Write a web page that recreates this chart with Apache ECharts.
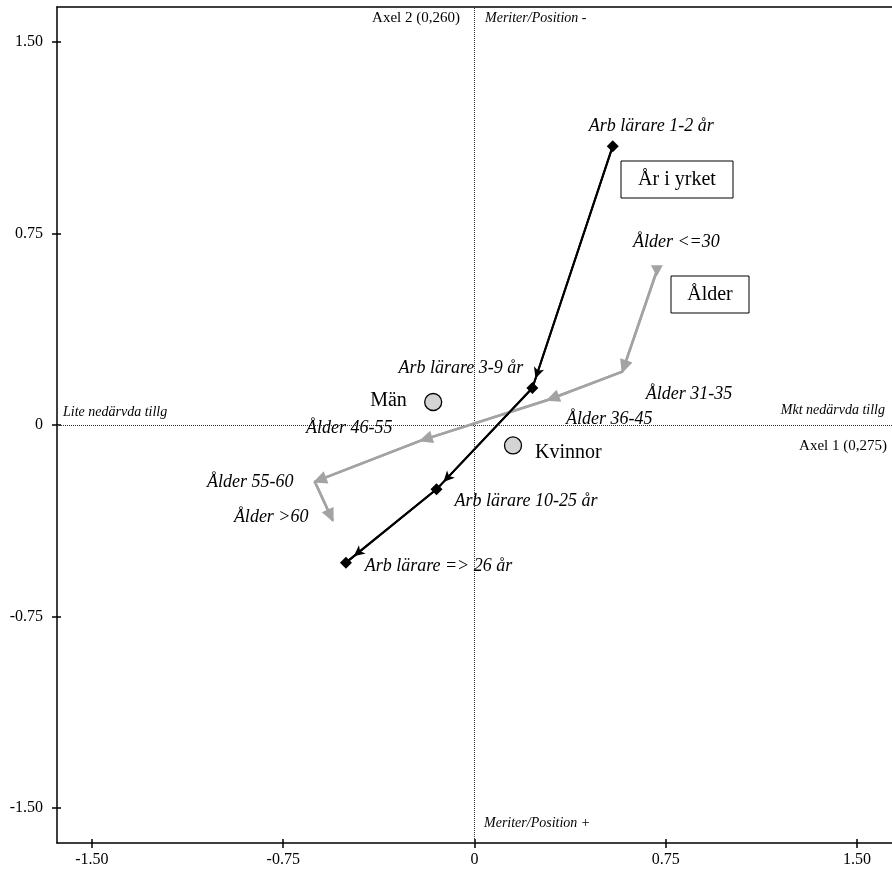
<!DOCTYPE html>
<html><head><meta charset="utf-8">
<script src="https://cdn.jsdelivr.net/npm/echarts@6/dist/echarts.min.js"></script>
<style>html,body{margin:0;padding:0;background:#fff}#c{width:892px;height:873px}</style>
</head><body><div id="c"></div>
<script>
// ---- data ----
const tickValues = [-1.5, -0.75, 0, 0.75, 1.5];
const tickLabels = ['-1.50', '-0.75', '0', '0.75', '1.50'];

const yrkeLabels = ['Arb lärare 1-2 år', 'Arb lärare 3-9 år', 'Arb lärare 10-25 år', 'Arb lärare => 26 år'];
const yrkeX = [0.542, 0.227, -0.149, -0.504];
const yrkeY = [1.092, 0.145, -0.252, -0.539];

const alderLabels = ['Ålder <=30', 'Ålder 31-35', 'Ålder 36-45', 'Ålder 46-55', 'Ålder 55-60', 'Ålder >60'];
const alderX = [0.715, 0.580, 0.287, -0.211, -0.626, -0.556];
const alderY = [0.604, 0.209, 0.098, -0.061, -0.222, -0.374];

const genderLabels = ['Män', 'Kvinnor'];
const genderX = [-0.162, 0.151];
const genderY = [0.090, -0.080];

// ---- styling / placement ----
const RANGE = 1.637;
const SERIF = '"Liberation Serif", "Times New Roman", serif';
const yrkeLabelOffset = [[39, -19], [-71, -19], [90, 12], [93, 4]];
const alderLabelOffset = [[20, -28], [67, 23], [62, 20], [-71, -12], [-64, 1], [-61, -3]];
// offsets measured from the 17px marker's top-left corner
const genderLabelOffset = [[-35.5, 7.5], [64.5, 16.5]];
const GREY = '#a3a3a3';

const pts = (xs, ys) => xs.map((x, i) => [x, ys[i]]);
const segs = (xs, ys) => xs.slice(1).map((x, i) => [{coord: [xs[i], ys[i]]}, {coord: [x, ys[i + 1]]}]);
const fmt = v => { const i = tickValues.findIndex(t => Math.abs(t - v) < 1e-9); return i >= 0 ? tickLabels[i] : ''; };

const labelData = (xs, ys, names, offs, style) => xs.map((x, i) => ({
  value: [x, ys[i]],
  label: Object.assign({show: true, formatter: names[i], position: [0, 0], offset: offs[i], align: 'center', verticalAlign: 'middle', textBorderWidth: 0, opacity: 1}, style)
}));

const baseAxis = (isX) => ({
  type: 'value', min: -RANGE, max: RANGE,
  position: isX ? 'bottom' : 'left',
  splitLine: {show: false},
  axisLine: {show: true, onZero: false, lineStyle: {color: '#000', width: 1.5}},
  axisTick: {show: true, inside: false, length: 5, customValues: tickValues, lineStyle: {color: '#000', width: 1.5}},
  axisLabel: {show: true, customValues: tickValues, formatter: fmt, fontFamily: SERIF, fontSize: 16, color: '#000', margin: isX ? 9 : 14}
});
const innerAxis = (isX) => ({
  type: 'value', min: -RANGE, max: RANGE,
  position: isX ? 'bottom' : 'left',
  splitLine: {show: false},
  axisLine: {show: false, onZero: false},
  axisTick: {show: true, inside: true, length: 4, customValues: tickValues, lineStyle: {color: '#000', width: 1.5}},
  axisLabel: {show: false}
});
const topAxis = {
  type: 'value', min: -RANGE, max: RANGE, position: 'top',
  splitLine: {show: false},
  axisLine: {show: true, onZero: false, lineStyle: {color: '#000', width: 1.5}},
  axisTick: {show: false}, axisLabel: {show: false}
};

const italic = {fontFamily: SERIF, fontStyle: 'italic', fontSize: 18, color: '#000'};
const upright = {fontFamily: SERIF, fontSize: 20, color: '#000'};

const chart = echarts.init(document.getElementById('c'), null, {renderer: 'canvas'});
chart.setOption({
  animation: false,
  backgroundColor: '#fff',
  grid: {left: 57, top: 7, width: 836, height: 836, show: false},
  xAxis: [baseAxis(true), innerAxis(true), topAxis],
  yAxis: [baseAxis(false), innerAxis(false)],
  series: [
    { // zero reference lines
      type: 'scatter', data: [], silent: true,
      markLine: {
        silent: true, symbol: ['none', 'none'], label: {show: false},
        lineStyle: {type: [1, 1], color: '#333', width: 1},
        data: [{xAxis: 0}, {yAxis: 0}]
      }
    },
    { // Ålder path
      type: 'line', data: pts(alderX, alderY), symbol: 'none', silent: true,
      lineStyle: {color: GREY, width: 2.5}, z: 3,
      markLine: {
        silent: true, symbol: ['none', 'triangle'], symbolSize: [13, 14], symbolOffset: [0, [0, 5]],
        label: {show: false}, lineStyle: {color: GREY, width: 2.5, type: 'solid'},
        data: segs(alderX, alderY)
      }
    },
    { // Ålder start marker
      type: 'scatter', data: [[alderX[0], alderY[0]]], symbol: 'triangle', symbolRotate: 180, symbolSize: [12, 11],
      itemStyle: {color: GREY, opacity: 1}, silent: true, z: 3
    },
    { // År i yrket path
      type: 'line', data: pts(yrkeX, yrkeY), symbol: 'diamond', symbolSize: 12, showSymbol: true,
      itemStyle: {color: '#000'}, lineStyle: {color: '#000', width: 2}, silent: true, z: 4,
      markLine: {
        silent: true, symbol: ['none', 'arrow'], symbolSize: [8, 11], symbolOffset: [0, [0, 10]],
        label: {show: false}, lineStyle: {color: '#000', width: 2, type: 'solid'},
        data: segs(yrkeX, yrkeY)
      }
    },
    { // gender points
      type: 'scatter', data: labelData(genderX, genderY, genderLabels, genderLabelOffset, upright),
      symbol: 'circle', symbolSize: 17, itemStyle: {color: '#d4d4d4', borderColor: '#000', borderWidth: 1.3, opacity: 1}, z: 5, silent: true
    },
    { // labels for yrke
      type: 'scatter', data: labelData(yrkeX, yrkeY, yrkeLabels, yrkeLabelOffset, italic),
      symbolSize: 1, itemStyle: {color: '#000', opacity: 1}, z: 6, silent: true
    },
    { // labels for ålder
      type: 'scatter', data: labelData(alderX, alderY, alderLabels, alderLabelOffset, italic),
      symbolSize: 1, itemStyle: {color: GREY, opacity: 1}, z: 6, silent: true
    }
  ],
  graphic: [
    {type: 'text', x: 460, y: 18, style: {text: 'Axel 2 (0,260)', font: '15px ' + SERIF, fill: '#000', align: 'right', verticalAlign: 'middle'}},
    {type: 'text', x: 485, y: 18, style: {text: 'Meriter/Position -', font: 'italic 14px ' + SERIF, fill: '#000', align: 'left', verticalAlign: 'middle'}},
    {type: 'text', x: 484, y: 823, style: {text: 'Meriter/Position +', font: 'italic 14px ' + SERIF, fill: '#000', align: 'left', verticalAlign: 'middle'}},
    {type: 'text', x: 63, y: 412, style: {text: 'Lite nedärvda tillg', font: 'italic 14px ' + SERIF, fill: '#000', align: 'left', verticalAlign: 'middle'}},
    {type: 'text', x: 885, y: 410, style: {text: 'Mkt nedärvda tillg', font: 'italic 14px ' + SERIF, fill: '#000', align: 'right', verticalAlign: 'middle'}},
    {type: 'text', x: 887, y: 446, style: {text: 'Axel 1 (0,275)', font: '15px ' + SERIF, fill: '#000', align: 'right', verticalAlign: 'middle'}},
    {type: 'rect', shape: {x: 621, y: 161, width: 112, height: 37}, style: {fill: '#fff', stroke: '#000', lineWidth: 1}, z: 10},
    {type: 'text', x: 677, y: 180, z: 11, style: {text: 'År i yrket', font: '20px ' + SERIF, fill: '#000', align: 'center', verticalAlign: 'middle'}},
    {type: 'rect', shape: {x: 671, y: 276, width: 78, height: 37}, style: {fill: '#fff', stroke: '#000', lineWidth: 1}, z: 10},
    {type: 'text', x: 710, y: 295, z: 11, style: {text: 'Ålder', font: '20px ' + SERIF, fill: '#000', align: 'center', verticalAlign: 'middle'}}
  ]
});
</script></body></html>
